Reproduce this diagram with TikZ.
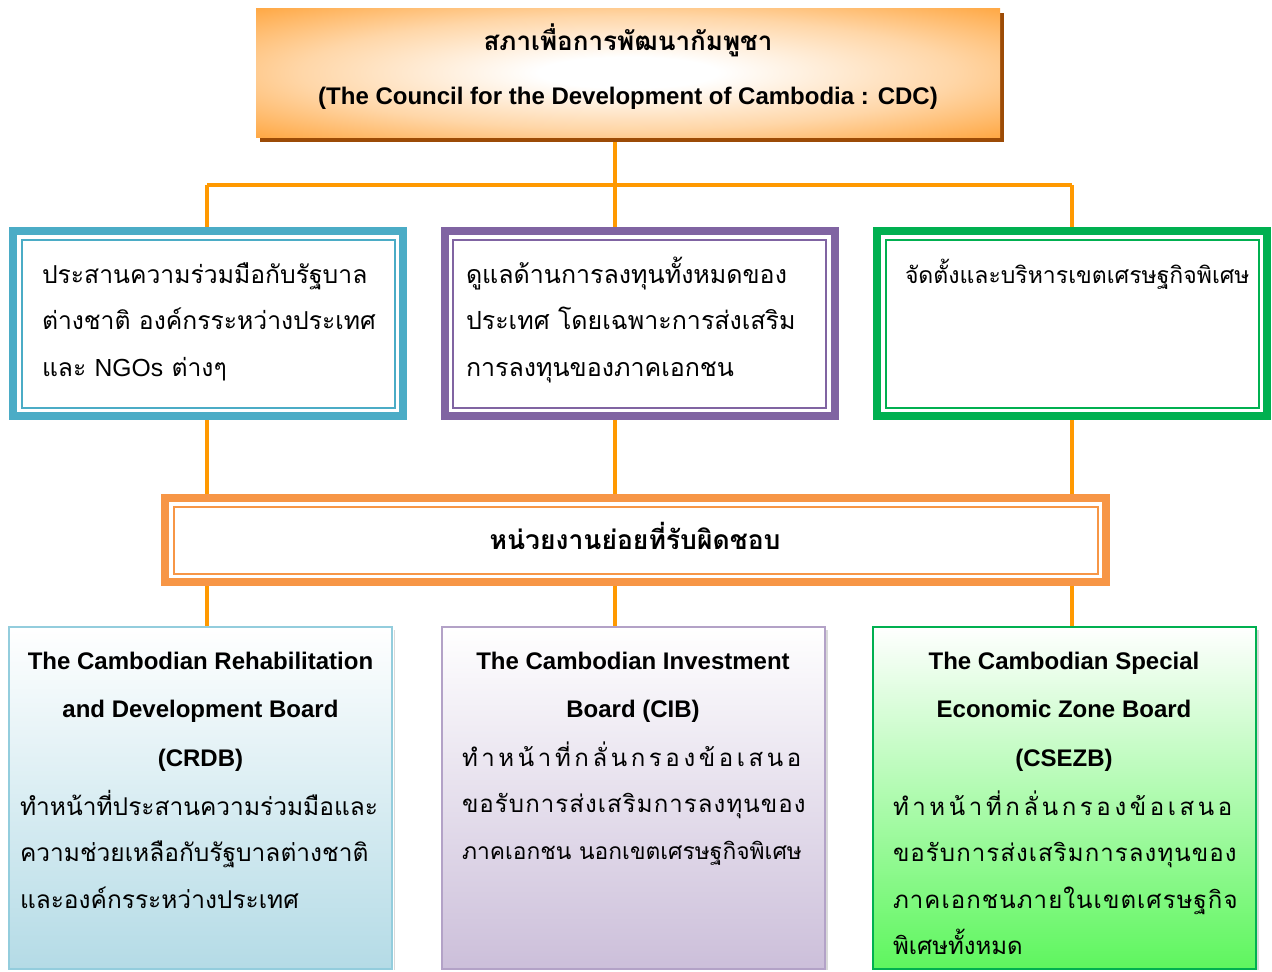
\documentclass[tikz,border=0pt]{standalone}
\usepackage{fontspec}
\setmainfont{Liberation Sans}
\newfontfamily\thai[Script=Thai]{Loma}
\newfontfamily\thaispA[Script=Thai,LetterSpace=15]{Loma}
\newfontfamily\thaispB[Script=Thai,LetterSpace=4.5]{Loma}
\usetikzlibrary{calc,shadows}
\definecolor{conn}{HTML}{FF9900}
\definecolor{cdcorg}{HTML}{FF9419}
\definecolor{cdcshadow}{HTML}{9C4B06}
\definecolor{tealB}{HTML}{4BACC6}
\definecolor{purpB}{HTML}{8064A2}
\definecolor{greenB}{HTML}{00B050}
\definecolor{orgB}{HTML}{F79646}
\definecolor{ltealB}{HTML}{93CDDD}
\definecolor{ltealF}{HTML}{B4DBE6}
\definecolor{lilacB}{HTML}{B3A2C7}
\definecolor{lilacF}{HTML}{CCBFDA}
\definecolor{lgreenF}{HTML}{5EF65E}
\pgfdeclareradialshading{cdcglow}{\pgfpoint{0bp}{0bp}}{color(0bp)=(white); color(6bp)=(white); color(22bp)=(cdcorg!38); color(35bp)=(cdcorg!80); color(45bp)=(cdcorg); color(75bp)=(cdcorg)}
\begin{document}
\begin{tikzpicture}[x=1pt,y=-1pt,
  connector/.style={draw=conn,line width=4.5pt},
  cdcbox/.style={shading=cdcglow,minimum width=744pt,minimum height=129pt,inner sep=0pt,
     drop shadow={shadow xshift=3.5pt,shadow yshift=-5pt,fill=cdcshadow,opacity=1}},
  dutybox/.style={draw=#1,line width=8pt,fill=white,minimum width=390pt,minimum height=185pt,inner sep=0pt},
  thinline/.style={draw=#1,line width=2pt},
  boardbox/.style={draw=#1,line width=2pt,minimum width=383pt,minimum height=342pt,inner sep=0pt},
  txt/.style={inner sep=0pt,outer sep=0pt,text=black}]
\useasboundingbox (0,0) rectangle (1272,972);
\fill[white] (0,0) rectangle (1272,972);

% top box
\node[cdcbox] (cdc) at (628,72.5) {};
\node[txt,anchor=base] (cdcth) at (628,50) {\thai\bfseries\fontsize{26}{30}\selectfont สภาเพื่อการพัฒนากัมพูชา};
\node[txt,anchor=base] (cdcen) at (628,104) {\bfseries\fontsize{24}{28}\selectfont (The Council for the Development of Cambodia : CDC)};

% middle row
\node[dutybox=tealB] (coop) at (208,323.5) {};
\node[dutybox=purpB] (inv) at (639.5,323.5) {};
\node[dutybox=greenB] (sez) at (1072,323.5) {};
\foreach \n/\c in {coop/tealB,inv/purpB,sez/greenB}{
  \draw[thinline=\c] ($(\n.north west)+(12.5,12.5)$) rectangle ($(\n.south east)+(-12.5,-12.5)$);
}
\node[txt,anchor=base west] (coopt) at (42,283) {\parbox[t]{360pt}{\thai\fontsize{24.7}{46.5}\selectfont
 ประสานความร่วมมือกับรัฐบาล\\ต่างชาติ องค์กรระหว่างประเทศ\\และ {\rmfamily NGOs} ต่างๆ}};
\node[txt,anchor=base west] (invt) at (466,283) {\parbox[t]{360pt}{\thai\fontsize{25}{46.5}\selectfont
 ดูแลด้านการลงทุนทั้งหมดของ\\ประเทศ โดยเฉพาะการส่งเสริม\\การลงทุนของภาคเอกชน}};
\node[txt,anchor=base west] (sezt) at (905,283) {\thai\fontsize{23}{46.5}\selectfont จัดตั้งและบริหารเขตเศรษฐกิจพิเศษ};

% responsible units box
\node[dutybox=orgB,minimum width=941pt,minimum height=84pt] (unit) at (635.5,540) {};
\draw[thinline=orgB] ($(unit.north west)+(12.5,12.5)$) rectangle ($(unit.south east)+(-12.5,-12.5)$);
\node[txt,anchor=base] (unitt) at (635,549) {\thai\bfseries\fontsize{26.5}{30}\selectfont หน่วยงานย่อยที่รับผิดชอบ};

% bottom row
\foreach \n/\x/\b/\f in {crdb/200.5/ltealB/ltealF, cib/633/lilacB/lilacF, csezb/1064/greenB/lgreenF}{
  \fill[gray!30] (\x+193,630) rectangle (\x+194.5,970);
  \node[boardbox=\b,top color=white,bottom color=\f] (\n) at (\x,798) {};
}
\node[txt,anchor=base] (crdbh) at (200.5,669) {\parbox[t]{370pt}{\centering\bfseries\fontsize{24}{48.5}\selectfont
 The Cambodian Rehabilitation\\and Development Board\\(CRDB)}};
\node[txt,anchor=base west] (crdbt) at (20,815) {\parbox[t]{370pt}{\thai\fontsize{24.5}{46.5}\selectfont
 ทำหน้าที่ประสานความร่วมมือและ\\ความช่วยเหลือกับรัฐบาลต่างชาติ\\และองค์กรระหว่างประเทศ}};
\node[txt,anchor=base] (cibh) at (633,669) {\parbox[t]{370pt}{\centering\bfseries\fontsize{24}{48.5}\selectfont
 The Cambodian Investment\\Board (CIB)}};
\node[txt,anchor=base west] (cibt) at (462,766) {\parbox[t]{370pt}{\fontsize{24}{46.5}\selectfont
 {\thaispA ทำหน้าที่กลั่นกรองข้อเสนอ}\\{\thaispB ขอรับการส่งเสริมการลงทุนของ}\\{\thai\fontsize{22.8}{46.5}\selectfont ภาคเอกชน นอกเขตเศรษฐกิจพิเศษ}}};
\node[txt,anchor=base] (csezbh) at (1064,669) {\parbox[t]{370pt}{\centering\bfseries\fontsize{24}{48.5}\selectfont
 The Cambodian Special\\Economic Zone Board\\(CSEZB)}};
\node[txt,anchor=base west] (csezbt) at (893,815) {\parbox[t]{370pt}{\fontsize{24}{46.5}\selectfont
 {\thaispA ทำหน้าที่กลั่นกรองข้อเสนอ}\\{\thaispB ขอรับการส่งเสริมการลงทุนของ}\\{\thaispB ภาคเอกชนภายในเขตเศรษฐกิจ}\\{\thai พิเศษทั้งหมด}}};

% connectors
\coordinate (bus) at (615,185);
\coordinate (busL) at (207,185);
\coordinate (busR) at (1072,185);
\draw[connector] (cdc.south -| bus) ++(0,5) -- (bus);
\draw[connector] (busL) -- (busR);
\draw[connector] (busL) -- (busL |- coop.north);
\draw[connector] (bus) -- (bus |- inv.north);
\draw[connector] (busR) -- (busR |- sez.north);
\draw[connector] (busL |- coop.south) -- (busL |- unit.north);
\draw[connector] (bus |- inv.south) -- (bus |- unit.north);
\draw[connector] (busR |- sez.south) -- (busR |- unit.north);
\draw[connector] (busL |- unit.south) -- (busL |- crdb.north);
\draw[connector] (bus |- unit.south) -- (bus |- cib.north);
\draw[connector] (busR |- unit.south) -- (busR |- csezb.north);
\end{tikzpicture}
\end{document}
